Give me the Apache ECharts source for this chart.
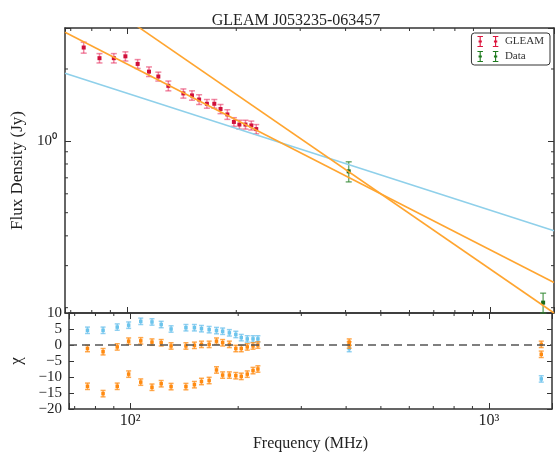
<!DOCTYPE html>
<html>
<head>
<meta charset="utf-8">
<script src="https://cdn.jsdelivr.net/npm/echarts@6/dist/echarts.min.js"></script>
<style>
html, body { margin: 0; padding: 0; background: #fff; }
#chart { width: 555px; height: 454px; }
</style>
</head>
<body>
<div id="chart"></div>
<script>
// GLEAM catalogue points (MHz, Jy)
var gleamFreq = [76, 84, 92, 99, 107, 115, 122, 130, 143, 151, 158, 166, 174, 181, 189, 197, 204, 212, 220, 227];
var gleamFlux = [2.46, 2.22, 2.22, 2.26, 2.10, 1.95, 1.86, 1.70, 1.58, 1.55, 1.49, 1.43, 1.43, 1.36, 1.29, 1.20, 1.17, 1.17, 1.16, 1.12];
var gleamErr  = [0.13, 0.10, 0.10, 0.10, 0.09, 0.09, 0.08, 0.08, 0.07, 0.07, 0.07, 0.06, 0.06, 0.06, 0.06, 0.05, 0.05, 0.05, 0.05, 0.05];

// other catalogue data
var dataFreq = [408, 1400];
var dataFlux = [0.745, 0.21];
var dataErr  = [0.072, 0.02];

// model lines, read at both ends of the frequency range
var lineFreq    = [67.5, 1500];
var blueLine    = [1.92, 0.42];
var orangeFit   = [2.85, 0.255];
var orangeSteep = [4.88, 0.19];

// residuals (chi), GLEAM points then 408 and 1400 MHz
var resFreq        = gleamFreq.concat(dataFreq);
var resBlue        = [4.6, 4.6, 5.6, 6.2, 7.4, 7.2, 6.4, 5.0, 5.4, 5.4, 5.1, 4.8, 4.5, 4.3, 3.8, 3.3, 2.3, 1.9, 1.9, 1.9, -1.1, -10.6];
var resOrangeFit   = [-1.1, -2.1, -0.6, 1.2, 1.3, 0.9, 0.7, -0.3, -0.3, -0.1, 0.2, 0.2, 1.2, 0.7, 0.2, -1.1, -1.1, -0.6, -0.3, 0.0, 0.9, -2.9];
var resOrangeSteep = [-12.9, -15.2, -12.9, -9.1, -11.6, -13.2, -12.1, -13.0, -13.0, -12.4, -11.4, -11.1, -7.8, -9.4, -9.4, -9.6, -9.8, -9.1, -8.0, -7.5, 0.0, 0.2];

var xMinor = [70, 80, 90, 200, 300, 400, 500, 600, 700, 800, 900];
var yMinor = [0.2, 0.3, 0.4, 0.5, 0.6, 0.7, 0.8, 0.9, 2];

var FONT = 'Liberation Serif';
var AXC = '#333';
var sup = { '-1': '\u207b\u00b9', '0': '\u2070', '1': '\u00b9', '2': '\u00b2', '3': '\u00b3' };

function powLabel(v) {
	var l = Math.log10(v);
	var e = Math.round(l);
	if (Math.abs(l - e) > 1e-6) return '';
	return '10' + sup[e];
}

function triples(f, v, e) {
	return f.map(function (x, i) { return [x, v[i], e[i]]; });
}

function errorBars(color, barColor, cap, dot) {
	return function (params, api) {
		var x = api.value(0), y = api.value(1), e = api.value(2);
		var mid = api.coord([x, y]);
		var top = api.coord([x, y + e]);
		var bot = api.coord([x, y - e]);
		var st = { stroke: barColor, lineWidth: 1.5 };
		return {
			type: 'group',
			children: [
				{ type: 'line', shape: { x1: mid[0], y1: top[1], x2: mid[0], y2: bot[1] }, style: st },
				{ type: 'line', shape: { x1: mid[0] - cap, y1: top[1], x2: mid[0] + cap, y2: top[1] }, style: st },
				{ type: 'line', shape: { x1: mid[0] - cap, y1: bot[1], x2: mid[0] + cap, y2: bot[1] }, style: st },
				{ type: 'rect', shape: { x: mid[0] - dot / 2, y: mid[1] - dot / 2, width: dot, height: dot }, style: { fill: color } }
			]
		};
	};
}

// minor ticks on log axes, drawn on both edges of the grid
function minorX(params, api) {
	var cs = params.coordSys;
	var px = api.coord([api.value(0), api.value(1)])[0];
	var st = { stroke: AXC, lineWidth: 1 };
	return { type: 'group', children: [
		{ type: 'line', shape: { x1: px, y1: cs.y, x2: px, y2: cs.y + 3 }, style: st },
		{ type: 'line', shape: { x1: px, y1: cs.y + cs.height, x2: px, y2: cs.y + cs.height - 3 }, style: st }
	]};
}
function minorY(params, api) {
	var cs = params.coordSys;
	var py = api.coord([api.value(0), api.value(1)])[1];
	var st = { stroke: AXC, lineWidth: 1 };
	return { type: 'group', children: [
		{ type: 'line', shape: { x1: cs.x, y1: py, x2: cs.x + 3, y2: py }, style: st },
		{ type: 'line', shape: { x1: cs.x + cs.width, y1: py, x2: cs.x + cs.width - 3, y2: py }, style: st }
	]};
}

function logX(grid, pos, labels) {
	return {
		type: 'log', logBase: 10, gridIndex: grid, position: pos,
		min: lineFreq[0], max: lineFreq[1],
		axisLine: { onZero: false, lineStyle: { color: AXC, width: 1.5 } },
		axisTick: { inside: true, length: 6, lineStyle: { color: AXC, width: 1 } },
		splitLine: { show: false },
		axisLabel: { show: labels, formatter: powLabel, fontFamily: FONT, fontSize: 16, color: '#222', margin: 4 }
	};
}

var chart = echarts.init(document.getElementById('chart'));

var option = {
	animation: false,
	backgroundColor: '#fff',
	title: {
		text: 'GLEAM J053235-063457',
		left: 291, top: 8, textAlign: 'center',
		textStyle: { fontFamily: FONT, fontSize: 16, fontWeight: 'normal', color: '#222' }
	},
	legend: {
		data: ['GLEAM', 'Data'],
		orient: 'vertical',
		right: 5, top: 33,
		padding: [3, 6, 3, 6],
		itemGap: 4,
		itemWidth: 24, itemHeight: 11,
		borderColor: '#333', borderWidth: 1, borderRadius: 3,
		icon: 'path://M0,0H5V1H3V4H4V6H3V9H5V10H0V9H2V6H1V4H2V1H0Z M14,0H19V1H17V4H18V6H17V9H19V10H14V9H16V6H15V4H16V1H14Z',
		textStyle: { fontFamily: FONT, fontSize: 11, color: '#333' }
	},
	grid: [
		{ left: 65, right: 1, top: 28, height: 285 },
		{ left: 65, right: 1, top: 313, height: 96 }
	],
	xAxis: [
		logX(0, 'bottom', false),
		logX(0, 'top', false),
		Object.assign(logX(1, 'bottom', true), {
			name: 'Frequency (MHz)', nameLocation: 'middle', nameGap: 27,
			nameTextStyle: { fontFamily: FONT, fontSize: 16, color: '#222' }
		}),
		logX(1, 'top', false)
	],
	yAxis: [
		{
			type: 'log', logBase: 10, gridIndex: 0, min: 0.19, max: 2.97,
			name: 'Flux Density (Jy)', nameLocation: 'middle', nameGap: 29, nameRotate: 90,
			nameTextStyle: { fontFamily: FONT, fontSize: 17, color: '#222' },
			axisLine: { onZero: false, lineStyle: { color: AXC, width: 1.5 } },
			axisTick: { inside: true, length: 6, lineStyle: { color: AXC } },
			splitLine: { show: false },
			axisLabel: { formatter: powLabel, fontFamily: FONT, fontSize: 15, color: '#222', margin: 8 }
		},
		{
			type: 'log', logBase: 10, gridIndex: 0, min: 0.19, max: 2.97, position: 'right',
			axisLine: { onZero: false, lineStyle: { color: AXC, width: 1.5 } },
			axisTick: { inside: true, length: 6, lineStyle: { color: AXC } },
			splitLine: { show: false }, axisLabel: { show: false }
		},
		{
			type: 'value', gridIndex: 1, min: -20, max: 10, interval: 5,
			name: '\u03c7', nameLocation: 'middle', nameGap: 44, nameRotate: 90,
			nameTextStyle: { fontFamily: FONT, fontSize: 17, color: '#222' },
			axisLine: { onZero: false, lineStyle: { color: AXC, width: 1.5 } },
			axisTick: { inside: true, length: 5, lineStyle: { color: AXC } },
			splitLine: { show: false },
			axisLabel: {
				fontFamily: FONT, fontSize: 15, color: '#222', margin: 7,
				formatter: function (v) { return String(v).replace('-', '\u2212'); }
			}
		},
		{
			type: 'value', gridIndex: 1, min: -20, max: 10, interval: 5, position: 'right',
			axisLine: { onZero: false, lineStyle: { color: AXC, width: 1.5 } },
			axisTick: { inside: true, length: 5, lineStyle: { color: AXC } },
			splitLine: { show: false }, axisLabel: { show: false }
		}
	],
	series: [
		{
			name: 'blue', type: 'line', xAxisIndex: 0, yAxisIndex: 0, symbol: 'none', silent: true,
			data: lineFreq.map(function (f, i) { return [f, blueLine[i]]; }),
			lineStyle: { color: '#8fd0ea', width: 1.6 }
		},
		{
			name: 'fit', type: 'line', xAxisIndex: 0, yAxisIndex: 0, symbol: 'none', silent: true,
			data: lineFreq.map(function (f, i) { return [f, orangeFit[i]]; }),
			lineStyle: { color: '#ffa530', width: 1.6 }
		},
		{
			name: 'steep', type: 'line', xAxisIndex: 0, yAxisIndex: 0, symbol: 'none', silent: true,
			data: lineFreq.map(function (f, i) { return [f, orangeSteep[i]]; }),
			lineStyle: { color: '#ffa530', width: 1.6 }
		},
		{
			name: 'GLEAM', type: 'custom', xAxisIndex: 0, yAxisIndex: 0,
			itemStyle: { color: '#dc143c' },
			renderItem: errorBars('#d0103a', 'rgba(230,40,90,0.55)', 3, 4),
			data: triples(gleamFreq, gleamFlux, gleamErr)
		},
		{
			name: 'Data', type: 'custom', xAxisIndex: 0, yAxisIndex: 0,
			itemStyle: { color: '#1e7a1e' },
			renderItem: errorBars('#1a6b1a', 'rgba(40,130,40,0.65)', 3, 4),
			data: triples(dataFreq, dataFlux, dataErr)
		},
		{
			name: 'zero', type: 'line', xAxisIndex: 2, yAxisIndex: 2, symbol: 'none', silent: true,
			data: lineFreq.map(function (f) { return [f, 0]; }),
			lineStyle: { color: '#555', width: 1.6, type: [8, 5] }
		},
		{
			name: 'resBlue', type: 'custom', xAxisIndex: 2, yAxisIndex: 2,
			renderItem: errorBars('#6cc4ec', 'rgba(100,190,235,0.7)', 2.5, 3.5),
			data: triples(resFreq, resBlue, resFreq.map(function () { return 1; }))
		},
		{
			name: 'resFit', type: 'custom', xAxisIndex: 2, yAxisIndex: 2,
			renderItem: errorBars('#ff8a10', 'rgba(255,140,20,0.75)', 2.5, 3.5),
			data: triples(resFreq, resOrangeFit, resFreq.map(function () { return 1; }))
		},
		{
			name: 'resSteep', type: 'custom', xAxisIndex: 2, yAxisIndex: 2,
			renderItem: errorBars('#ff8a10', 'rgba(255,140,20,0.75)', 2.5, 3.5),
			data: triples(resFreq, resOrangeSteep, resFreq.map(function () { return 1; }))
		},
		{
			name: 'xminor0', type: 'custom', xAxisIndex: 0, yAxisIndex: 0, silent: true,
			renderItem: minorX, data: xMinor.map(function (v) { return [v, 1]; })
		},
		{
			name: 'xminor1', type: 'custom', xAxisIndex: 2, yAxisIndex: 2, silent: true,
			renderItem: minorX, data: xMinor.map(function (v) { return [v, 0]; })
		},
		{
			name: 'yminor0', type: 'custom', xAxisIndex: 0, yAxisIndex: 0, silent: true,
			renderItem: minorY, data: yMinor.map(function (v) { return [100, v]; })
		}
	]
};

chart.setOption(option);
</script>
</body>
</html>
